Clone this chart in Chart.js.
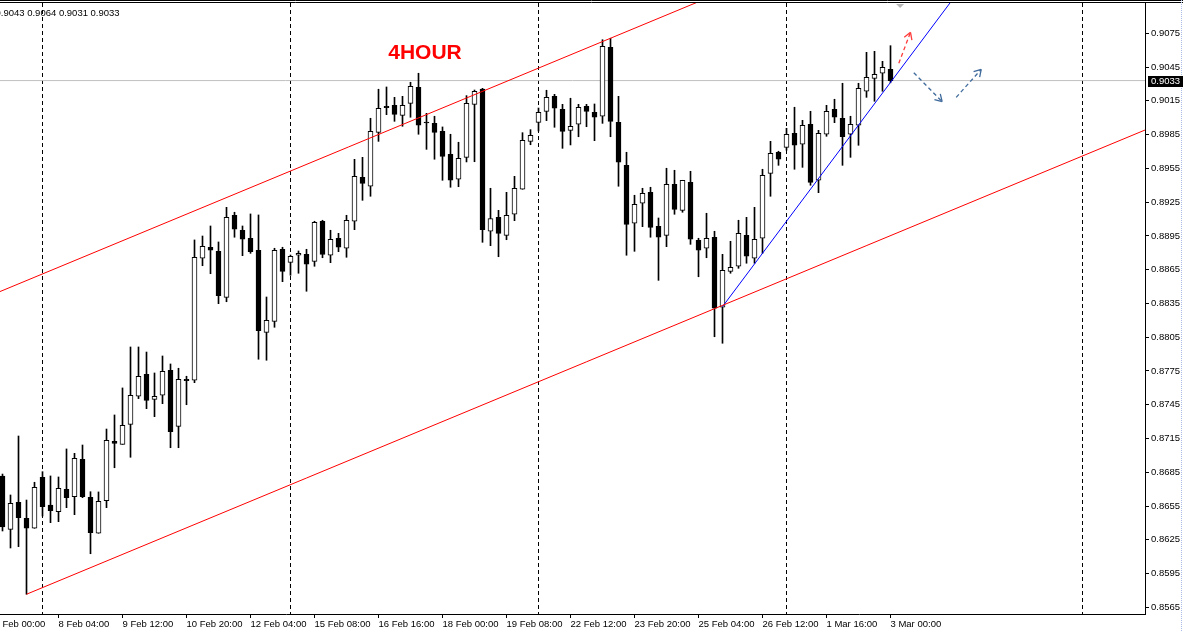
<!DOCTYPE html>
<html>
<head>
<meta charset="utf-8">
<script src="https://cdn.jsdelivr.net/npm/chart.js@4.4.1/dist/chart.umd.min.js"></script>
<style>
  html, body { margin: 0; padding: 0; background: #fff; overflow: hidden; }
  canvas { display: block; }
</style>
</head>
<body>
<canvas id="chart" width="1183" height="631"></canvas>
<script>
// USDCHF H4 candles (index 0 = 5 Feb 04:00)
const opens = [0.86817,0.86343,0.86583,0.86441,0.86352,0.86805,0.86559,0.86499,0.86698,0.86633,
  0.86965,0.86627,0.86308,0.86597,0.87125,0.87098,0.87276,0.87525,0.87720,0.87498,
  0.87534,0.87756,0.87258,0.87676,0.87667,0.88751,0.88849,0.88813,0.88404,0.89133,
  0.89000,0.88929,0.88822,0.88093,0.88191,0.88831,0.88715,0.88778,0.88786,0.88724,
  0.89080,0.88778,0.88929,0.88840,0.89080,0.89471,0.89391,0.89870,0.90101,0.90110,
  0.90021,0.90128,0.90270,0.89959,0.89950,0.89879,0.89675,0.89453,0.89648,0.90119,
  0.90255,0.88991,0.89115,0.88955,0.89142,0.89364,0.89790,0.89959,0.90057,0.90190,
  0.90075,0.89888,0.89942,0.90101,0.90048,0.90013,0.90626,0.89959,0.89577,0.89062,
  0.89240,0.89337,0.89035,0.88955,0.89408,0.89177,0.89426,0.88911,0.88840,0.88938,
  0.88316,0.88635,0.88680,0.88955,0.88751,0.88929,0.89506,0.89693,0.89737,0.89862,
  0.89764,0.89942,0.89444,0.89853,0.90075,0.89995,0.89853,0.89933,0.90235,0.90350,
  0.90395,0.90430];
const highs = [0.86834,0.86648,0.87172,0.86603,0.86761,0.86855,0.86817,0.86808,0.87057,0.87018,
  0.87092,0.86677,0.86675,0.87234,0.87359,0.87599,0.87963,0.87963,0.87918,0.87732,
  0.87883,0.87812,0.87774,0.87703,0.88914,0.88949,0.89038,0.88896,0.89204,0.89160,
  0.89038,0.89145,0.89136,0.88407,0.88840,0.88849,0.88780,0.88816,0.88831,0.89080,
  0.89089,0.89000,0.88973,0.89133,0.89630,0.89648,0.89995,0.90253,0.90273,0.90181,
  0.90190,0.90315,0.90395,0.90039,0.90013,0.89918,0.89853,0.89782,0.90196,0.90246,
  0.90261,0.89373,0.89177,0.89337,0.89479,0.89867,0.89894,0.90086,0.90244,0.90208,
  0.90119,0.90173,0.90119,0.90119,0.90122,0.90693,0.90706,0.90190,0.89693,0.89311,
  0.89373,0.89382,0.89109,0.89551,0.89533,0.89444,0.89524,0.88929,0.89151,0.88991,
  0.88786,0.88902,0.89089,0.89115,0.89204,0.89542,0.89790,0.89702,0.89906,0.90093,
  0.89977,0.90057,0.89888,0.90110,0.90164,0.90306,0.90013,0.90306,0.90581,0.90590,
  0.90501,0.90640];
const lows = [0.86328,0.86177,0.86189,0.85766,0.86352,0.86461,0.86402,0.86411,0.86535,0.86473,
  0.86624,0.86126,0.86308,0.86535,0.86890,0.87098,0.86983,0.87504,0.87415,0.87344,
  0.87459,0.87068,0.87068,0.87450,0.87646,0.88685,0.88614,0.88348,0.88365,0.88938,
  0.88774,0.88795,0.87854,0.87845,0.88138,0.88543,0.88600,0.88618,0.88458,0.88680,
  0.88756,0.88712,0.88810,0.88760,0.89005,0.89266,0.89302,0.89790,0.90027,0.89968,
  0.89924,0.90004,0.89853,0.89719,0.89631,0.89444,0.89382,0.89387,0.89607,0.89609,
  0.88893,0.88863,0.88765,0.88916,0.89085,0.89364,0.89760,0.89882,0.89974,0.89915,
  0.89728,0.89758,0.89831,0.89920,0.89796,0.89950,0.89831,0.89391,0.88778,0.88813,
  0.89032,0.88938,0.88555,0.88854,0.89142,0.89160,0.88875,0.88587,0.88756,0.88054,
  0.87996,0.88618,0.88662,0.88707,0.88707,0.88795,0.89302,0.89577,0.89711,0.89542,
  0.89559,0.89400,0.89334,0.89835,0.89956,0.89577,0.89648,0.89755,0.90181,0.90146,
  0.90235,0.90310];
const closes = [0.86364,0.86574,0.86446,0.86352,0.86716,0.86544,0.86508,0.86707,0.86624,0.86974,
  0.86633,0.86313,0.86592,0.87134,0.87107,0.87267,0.87534,0.87703,0.87489,0.87525,
  0.87747,0.87210,0.87676,0.87663,0.88760,0.88858,0.88822,0.88419,0.89115,0.89009,
  0.88920,0.88810,0.88108,0.88200,0.88822,0.88635,0.88769,0.88795,0.88698,0.89071,
  0.88786,0.88920,0.88849,0.89089,0.89479,0.89417,0.89879,0.90084,0.90089,0.90030,
  0.90110,0.90279,0.89933,0.89953,0.89870,0.89657,0.89444,0.89639,0.90128,0.90235,
  0.89005,0.89103,0.88973,0.89133,0.89373,0.89799,0.89844,0.90048,0.90181,0.90084,
  0.89879,0.89924,0.90093,0.90057,0.90004,0.90635,0.89968,0.89604,0.89053,0.89231,
  0.89328,0.89026,0.88938,0.89408,0.89186,0.89444,0.88920,0.88822,0.88929,0.88307,
  0.88644,0.88671,0.88973,0.88769,0.88920,0.89488,0.89684,0.89631,0.89853,0.89755,
  0.89933,0.89426,0.89862,0.90057,0.90004,0.89831,0.89942,0.90261,0.90359,0.90386,
  0.90448,0.90330];

// time axis labels (bar index -> text)
const xLabelIdx = [-1, 7, 15, 23, 31, 39, 47, 55, 63, 71, 79, 87, 95, 103, 111];
const xLabels = ['5 Feb 00:00','8 Feb 04:00','9 Feb 12:00','10 Feb 20:00','12 Feb 04:00',
  '15 Feb 08:00','16 Feb 16:00','18 Feb 00:00','19 Feb 08:00','22 Feb 12:00',
  '23 Feb 20:00','25 Feb 04:00','26 Feb 12:00','1 Mar 16:00','3 Mar 00:00'];
const weekSeparators = [5, 36, 67, 98, 135];

const yTicks = [0.8565,0.8595,0.8625,0.8655,0.8685,0.8715,0.8745,0.8775,0.8805,
  0.8835,0.8865,0.8895,0.8925,0.8955,0.8985,0.9015,0.9045,0.9075];

// drawn objects: channel, trend line, arrows
const channelUpper = [{x: -1, y: 0.88435}, {x: 100, y: 0.91414}];
const channelLower = [{x: 3, y: 0.85766}, {x: 145, y: 0.89955}];
const trendBlue = [{x: 90, y: 0.88321}, {x: 120, y: 0.91168}];
const arrowUp = [{x: 112.04, y: 0.90484}, {x: 113.5, y: 0.90759}];
const arrowDown = [{x: 113.91, y: 0.90400}, {x: 117.46, y: 0.90142}];
const arrowUp2 = [{x: 119.21, y: 0.90181}, {x: 122.34, y: 0.90430}];

const bid = 0.9033;
const ohlcText = '0.9043 0.9064 0.9031 0.9033';
const titleText = '4HOUR';

const xMin = -0.3125, xMax = 142.8125;
const yMin = 0.855905, yMax = 0.910192;

const bodies = opens.map((o, i) => ({x: i, y: [o, closes[i]]}));
const wicks = highs.map((h, i) => ({x: i, y: [lows[i], h]}));
const bodyFill = opens.map((o, i) => closes[i] >= o ? '#ffffff' : '#000000');

const axisFont = {family: 'Liberation Sans', size: 9.5};

const overlay = {
  id: 'overlay',
  beforeDraw(chart) {
    const ctx = chart.ctx;
    ctx.save();
    ctx.fillStyle = '#fff';
    ctx.fillRect(0, 0, chart.width, chart.height);
    ctx.restore();
  },
  afterDatasetsDraw(chart) {
    const ctx = chart.ctx;
    chart.data.datasets.forEach((ds, k) => {
      if (!ds.arrowHead) return;
      const pts = chart.getDatasetMeta(k).data;
      const a = pts[0], b = pts[pts.length - 1];
      const ang = Math.atan2(b.y - a.y, b.x - a.x);
      ctx.save();
      ctx.strokeStyle = ds.borderColor;
      ctx.lineWidth = 1.3;
      ctx.beginPath();
      [ang + Math.PI * 0.83, ang - Math.PI * 0.83].forEach(t => {
        ctx.moveTo(b.x, b.y);
        ctx.lineTo(b.x + 8 * Math.cos(t), b.y + 8 * Math.sin(t));
      });
      ctx.stroke();
      ctx.restore();
    });
  },
  afterDraw(chart) {
    const ctx = chart.ctx;
    const area = chart.chartArea;
    const xs = chart.scales.x, ys = chart.scales.y;
    ctx.save();
    // window / chart frame at top
    ctx.strokeStyle = '#000';
    ctx.lineWidth = 1;
    ctx.beginPath();
    ctx.moveTo(0, 0.5); ctx.lineTo(chart.width, 0.5);
    ctx.moveTo(0, 2.5); ctx.lineTo(chart.width, 2.5);
    ctx.stroke();
    // right window edge
    ctx.strokeStyle = '#a9bde8';
    ctx.setLineDash([1, 1]);
    ctx.beginPath();
    ctx.moveTo(chart.width - 1.5, 0); ctx.lineTo(chart.width - 1.5, chart.height);
    ctx.stroke();
    ctx.setLineDash([]);
    // shift marker
    const sx = xs.getPixelForValue(112.2);
    ctx.fillStyle = '#b8b8b8';
    ctx.beginPath();
    ctx.moveTo(sx - 4, area.top + 1); ctx.lineTo(sx + 4, area.top + 1); ctx.lineTo(sx, area.top + 5);
    ctx.closePath(); ctx.fill();
    // OHLC text
    ctx.fillStyle = '#000';
    ctx.font = '9.5px "Liberation Sans"';
    ctx.textBaseline = 'middle';
    ctx.textAlign = 'left';
    ctx.fillText(ohlcText, -4.5, 13);
    // title
    ctx.fillStyle = '#ff0000';
    ctx.font = 'bold 21px "Liberation Sans"';
    ctx.textAlign = 'center';
    ctx.fillText(titleText, 425, 53);
    // bid price box on the axis
    const by = Math.round(ys.getPixelForValue(bid));
    ctx.fillStyle = '#000';
    ctx.fillRect(area.right + 3, by - 5, chart.width - area.right - 3, 11);
    ctx.fillStyle = '#fff';
    ctx.font = '9.5px "Liberation Sans"';
    ctx.textAlign = 'left';
    ctx.fillText(bid.toFixed(4), area.right + 6, by + 0.5);
    ctx.restore();
  }
};

const lineDs = (data, color, extra) => Object.assign({
  type: 'line', data: data, borderColor: color, borderWidth: 1,
  pointRadius: 0, fill: false, tension: 0, order: 0
}, extra || {});

new Chart(document.getElementById('chart'), {
  type: 'bar',
  data: {
    datasets: [
      lineDs(channelUpper, '#ff0000'),
      lineDs(channelLower, '#ff0000'),
      lineDs(trendBlue, '#0000ff'),
      lineDs(arrowUp, '#ff3b3b', {borderDash: [4, 3], borderWidth: 1.3, arrowHead: true}),
      lineDs(arrowDown, '#3f6a9c', {borderDash: [4, 3], borderWidth: 1.3, arrowHead: true}),
      lineDs(arrowUp2, '#3f6a9c', {borderDash: [4, 3], borderWidth: 1.3, arrowHead: true}),
      {
        type: 'bar', data: bodies, grouped: false, barThickness: 5, minBarLength: 1,
        backgroundColor: bodyFill, borderColor: '#000', borderWidth: 1, borderSkipped: false, order: 1
      },
      {
        type: 'bar', data: wicks, grouped: false, barThickness: 1, minBarLength: 1,
        backgroundColor: '#000', borderWidth: 0, order: 2
      },
      lineDs([{x: -1, y: bid}, {x: 150, y: bid}], '#c0c0c0', {order: 3})
    ]
  },
  options: {
    responsive: false,
    animation: false,
    devicePixelRatio: 1,
    layout: {autoPadding: false, padding: {left: 0, top: 3, right: 0, bottom: 0}},
    plugins: {legend: {display: false}, tooltip: {enabled: false}, title: {display: false}},
    scales: {
      x: {
        type: 'linear', position: 'bottom', min: xMin, max: xMax, offset: false, bounds: 'data',
        grid: {offset: false, drawOnChartArea: false, drawTicks: true, tickLength: 4, color: '#000'},
        border: {display: true, color: '#000'},
        ticks: {
          align: 'start', autoSkip: false, maxRotation: 0, padding: 1, color: '#000', font: axisFont,
          callback: (v, i) => xLabels[i]
        },
        afterBuildTicks: s => { s.ticks = xLabelIdx.map(v => ({value: v})); },
        afterFit: s => { s.height = 17; s.paddingLeft = 0; s.paddingRight = 0; }
      },
      xg: {
        type: 'linear', position: 'bottom', min: xMin, max: xMax, offset: false, bounds: 'data',
        grid: {offset: false, drawOnChartArea: true, drawTicks: false, color: '#000', lineWidth: 1},
        border: {display: false, dash: [4, 3]},
        ticks: {display: false},
        afterBuildTicks: s => { s.ticks = weekSeparators.map(v => ({value: v})); },
        afterFit: s => { s.height = 0; s.paddingLeft = 0; s.paddingRight = 0; }
      },
      y: {
        type: 'linear', position: 'right', min: yMin, max: yMax, bounds: 'data',
        grid: {drawOnChartArea: false, drawTicks: true, tickLength: 4, color: '#000'},
        border: {display: true, color: '#000'},
        ticks: {padding: 2, color: '#000', font: axisFont, callback: v => v.toFixed(4)},
        afterBuildTicks: s => { s.ticks = yTicks.map(v => ({value: v})); },
        afterFit: s => { s.width = 38; s.paddingTop = 0; s.paddingBottom = 0; }
      }
    }
  },
  plugins: [overlay]
});
</script>
</body>
</html>
